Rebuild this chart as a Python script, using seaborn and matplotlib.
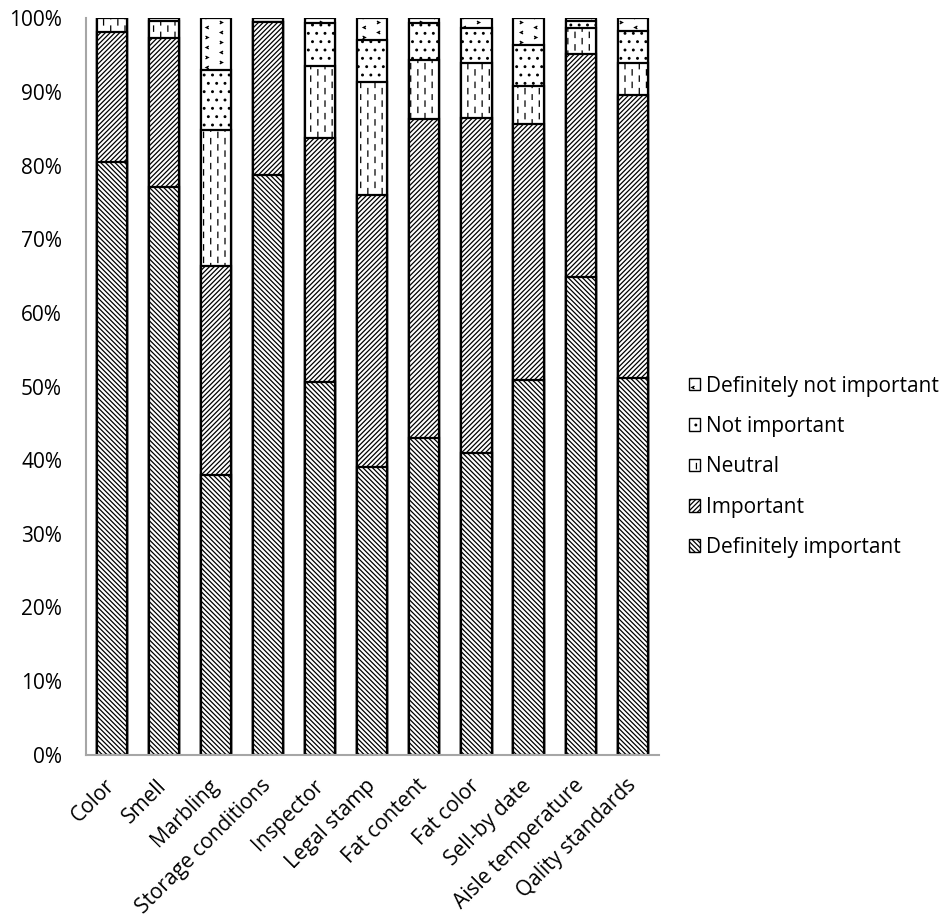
import warnings
import numpy as np
import pandas as pd
import matplotlib
matplotlib.use("Agg")
import matplotlib.pyplot as plt
from matplotlib import hatch as mhatch
from matplotlib.path import Path
from matplotlib.patches import Patch
import seaborn as sns

warnings.filterwarnings("ignore")

categories = ["Color", "Smell", "Marbling", "Storage conditions", "Inspector",
              "Legal stamp", "Fat content", "Fat color", "Sell-by date",
              "Aisle temperature", "Qality standards"]

definitely_important = [80.5, 77.1, 38.0, 78.7, 50.6, 39.1, 43.0, 41.0, 50.9, 64.9, 51.2]
important = [17.7, 20.2, 28.4, 20.8, 33.1, 36.9, 43.3, 45.4, 34.7, 30.2, 38.4]
neutral = [1.8, 2.4, 18.5, 0.0, 9.8, 15.3, 8.0, 7.6, 5.2, 3.6, 4.4]
not_important = [0.0, 0.3, 8.1, 0.5, 5.8, 5.8, 5.0, 4.7, 5.6, 1.0, 4.3]
definitely_not_important = [0.0, 0.0, 7.0, 0.0, 0.7, 2.9, 0.7, 1.3, 3.6, 0.3, 1.7]

series_names = ["Definitely important", "Important", "Neutral",
                "Not important", "Definitely not important"]
series_values = [definitely_important, important, neutral,
                 not_important, definitely_not_important]


# Extra hatch patterns: ':' -> staggered vertical dashes, '>' -> small chevrons
class VerticalDashes(mhatch.HatchPatternBase):
    def __init__(self, hatch, density):
        n = hatch.count(':')
        self.cols = 14 * n
        self.rows = 8 * n
        self.num_vertices = self.cols * self.rows * 2

    def set_vertices_and_codes(self, vertices, codes):
        k = 0
        for i in range(self.cols):
            x = (i + 0.5) / self.cols
            off = 0.5 if i % 2 else 0.0
            for j in range(self.rows):
                y0 = (j + off) / self.rows
                y1 = y0 + 0.42 / self.rows
                vertices[k] = (x, y0)
                vertices[k + 1] = (x, y1)
                codes[k] = Path.MOVETO
                codes[k + 1] = Path.LINETO
                k += 2


class Chevrons(mhatch.HatchPatternBase):
    def __init__(self, hatch, density):
        n = hatch.count('>')
        self.cols = 7 * n
        self.rows = 10 * n
        self.num_vertices = self.cols * self.rows * 3

    def set_vertices_and_codes(self, vertices, codes):
        k = 0
        s = 0.011
        for i in range(self.cols):
            x = (i + 0.5) / self.cols
            off = 0.5 if i % 2 else 0.0
            for j in range(self.rows):
                y = (j + 0.25 + off) / self.rows
                d = s if (i + j) % 2 == 0 else -s
                vertices[k] = (x - d, y + s)
                vertices[k + 1] = (x + d, y)
                vertices[k + 2] = (x - d, y - s)
                codes[k] = Path.MOVETO
                codes[k + 1] = Path.LINETO
                codes[k + 2] = Path.LINETO
                k += 3


mhatch._hatch_types.append(VerticalDashes)
mhatch._hatch_types.append(Chevrons)

hatches = ["\\" * 7, "/" * 7, ":", "..", ">"]

sns.set_style("white")
plt.rcParams["font.family"] = ["Open Sans", "DejaVu Sans"]
plt.rcParams["hatch.linewidth"] = 0.9
plt.rcParams["text.color"] = "black"
plt.rcParams["xtick.color"] = "black"
plt.rcParams["ytick.color"] = "black"

fig = plt.figure(figsize=(9.52, 9.17), dpi=100)
ax = fig.add_axes([0.090, 0.177, 0.602, 0.803])

df = pd.DataFrame({"category": categories})
cum = np.cumsum(np.array(series_values), axis=0)

# Draw the cumulative totals from the top layer down so each layer overlays the next
for idx in range(len(series_names) - 1, -1, -1):
    df["value"] = cum[idx]
    n_before = len(ax.patches)
    sns.barplot(data=df, x="category", y="value", color="white", saturation=1,
                edgecolor="black", linewidth=1.6, width=0.58, ax=ax, errorbar=None)
    for p in ax.patches[n_before:]:
        p.set_hatch(hatches[idx])
        p.set_facecolor("white")

ax.set_ylim(0, 100)
ax.set_xlim(-0.5, len(categories) - 0.5)
ax.set_yticks(np.arange(0, 101, 10))
ax.set_yticklabels([f"{v}%" for v in range(0, 101, 10)])
ax.set_xlabel("")
ax.set_ylabel("")
ax.tick_params(axis="y", length=0, pad=17, labelsize=15)
ax.tick_params(axis="x", length=0, pad=20, labelsize=15)
plt.setp(ax.get_xticklabels(), rotation=45, ha="right", va="center",
         rotation_mode="anchor")

for side in ["top", "right"]:
    ax.spines[side].set_visible(False)
for side in ["left", "bottom"]:
    ax.spines[side].set_color("#a6a6a6")
    ax.spines[side].set_linewidth(1.5)

handles = [Patch(facecolor="white", edgecolor="black", hatch=hatches[i],
                 linewidth=1.0, label=series_names[i])
           for i in range(len(series_names) - 1, -1, -1)]
ax.legend(handles=handles, loc="center left", bbox_to_anchor=(1.052, 0.391),
          frameon=False, fontsize=15, handlelength=0.55, handleheight=0.55,
          handletextpad=0.3, labelspacing=0.93, borderaxespad=0, borderpad=0)

fig.savefig("out.png", dpi=100)
